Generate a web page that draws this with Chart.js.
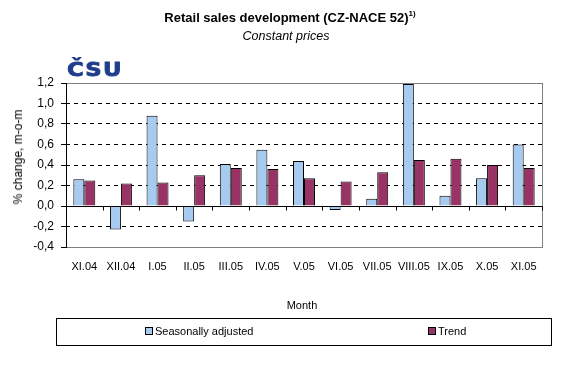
<!DOCTYPE html>
<html><head><meta charset="utf-8">
<script src="https://cdn.jsdelivr.net/npm/chart.js@4/dist/chart.umd.min.js"></script>
<style>
html,body{margin:0;padding:0;background:#fff;}
#wrap{position:relative;width:588px;height:377px;overflow:hidden;font-family:"Liberation Sans",Arial,sans-serif;color:#000;}
canvas{position:absolute;left:0;top:0;}
.abs{position:absolute;white-space:nowrap;}
#title{left:0;width:580px;top:10px;text-align:center;font-weight:bold;font-size:13px;}
#title sup{font-size:8px;position:relative;top:-1px;}
#sub{left:0;width:572px;top:29px;text-align:center;font-style:italic;font-size:12.5px;}
#logo{left:67px;top:57px;font-family:"DejaVu Sans",sans-serif;font-weight:bold;font-size:19px;color:#1f3d8a;letter-spacing:1px;transform:scale(1.2,1.05);transform-origin:left top;-webkit-text-stroke:0.8px #1f3d8a;}
#ytitle{left:18px;top:157px;font-size:12px;transform:translate(-50%,-50%) rotate(-90deg);}
#xtitle{left:0;width:604px;top:299px;text-align:center;font-size:11px;}
#legend{left:56px;top:318px;width:494px;height:26px;border:1px solid #000;font-size:11px;}
.li{position:absolute;top:6px;}
.sw{display:inline-block;width:6px;height:6px;border:1px solid #000;margin-right:2px;vertical-align:0px;}
</style></head>
<body>
<div id="wrap">
<canvas id="c" width="588" height="377"></canvas>
<div id="title" class="abs">Retail sales development (CZ-NACE 52)<sup>1)</sup></div>
<div id="sub" class="abs">Constant prices</div>
<div id="logo" class="abs">ČSU</div>
<div id="ytitle" class="abs">% change, m-o-m</div>
<div id="xtitle" class="abs">Month</div>
<div id="legend" class="abs">
  <div class="li" style="left:88px"><span class="sw" style="background:#A6CAF0"></span>Seasonally adjusted</div>
  <div class="li" style="left:371px"><span class="sw" style="background:#993366"></span>Trend</div>
</div>
</div>
<script>
const months = ["XI.04","XII.04","I.05","II.05","III.05","IV.05","V.05","VI.05","VII.05","VIII.05","IX.05","X.05","XI.05"];
const seasonallyAdjusted = [0.26,-0.23,0.88,-0.15,0.41,0.55,0.44,-0.04,0.07,1.19,0.10,0.27,0.60];
const trend = [0.25,0.22,0.23,0.30,0.37,0.36,0.27,0.24,0.33,0.45,0.46,0.40,0.37];
const yMin = -0.4, yMax = 1.2, yStep = 0.2;

const frame = {
  id:'frame',
  beforeDatasetsDraw(chart){
    const {ctx, chartArea:a} = chart;
    ctx.save();
    ctx.strokeStyle = '#808080'; ctx.lineWidth = 1;
    ctx.strokeRect(Math.round(a.left)+0.5, Math.round(a.top)+0.5, Math.round(a.right-a.left), Math.round(a.bottom-a.top));
    ctx.restore();
  },
  afterDatasetsDraw(chart){
    const {ctx, chartArea:a, scales:{x,y}} = chart;
    const y0 = Math.round(y.getPixelForValue(0))+0.5;
    const lx = Math.round(a.left)+0.5;
    ctx.save();
    ctx.strokeStyle = '#000'; ctx.lineWidth = 1;
    ctx.beginPath(); ctx.moveTo(lx, a.top); ctx.lineTo(lx, a.bottom+1); ctx.stroke();
    ctx.beginPath(); ctx.moveTo(a.left, y0); ctx.lineTo(a.right, y0); ctx.stroke();
    const n = months.length;
    for (let i=0;i<=n;i++){
      const px = Math.round(x.getPixelForValue(i-0.5))+0.5;
      ctx.beginPath(); ctx.moveTo(px, y0); ctx.lineTo(px, y0+4); ctx.stroke();
    }
    ctx.restore();
  }
};

new Chart(document.getElementById('c'), {
  type:'bar',
  data:{labels:months, datasets:[
    {label:'Seasonally adjusted', data:seasonallyAdjusted, backgroundColor:'#A6CAF0', borderColor:'#000', borderWidth:1, categoryPercentage:0.6, barPercentage:1},
    {label:'Trend', data:trend, backgroundColor:'#993366', borderColor:'#000', borderWidth:1, categoryPercentage:0.6, barPercentage:1}
  ]},
  options:{
    responsive:false, animation:false,
    layout:{padding:{left:0, right:46, top:83, bottom:100}},
    plugins:{legend:{display:false}, tooltip:{enabled:false}},
    scales:{
      x:{
        grid:{display:false}, border:{display:false},
        ticks:{color:'#000', font:{family:'"Liberation Sans", Arial', size:11}, padding:5, maxRotation:0, autoSkip:false},
        afterFit(s){ s.height = 30; }
      },
      y:{
        min:yMin, max:yMax,
        ticks:{stepSize:yStep, color:'#000', font:{family:'"Liberation Sans", Arial', size:12}, padding:7,
          callback:(v)=>Number(v).toFixed(1).replace('.',',')},
        grid:{
          color:(c)=>{const v=Math.round(c.tick.value*10)/10; return (v===0||v===yMin||v===yMax)?'rgba(0,0,0,0)':'#000';},
          tickColor:'#000', tickLength:5, drawTicks:true
        },
        border:{display:false, dash:[4,4]},
        afterFit(s){ s.width = 66; }
      }
    }
  },
  plugins:[frame]
});
</script>
</body></html>
